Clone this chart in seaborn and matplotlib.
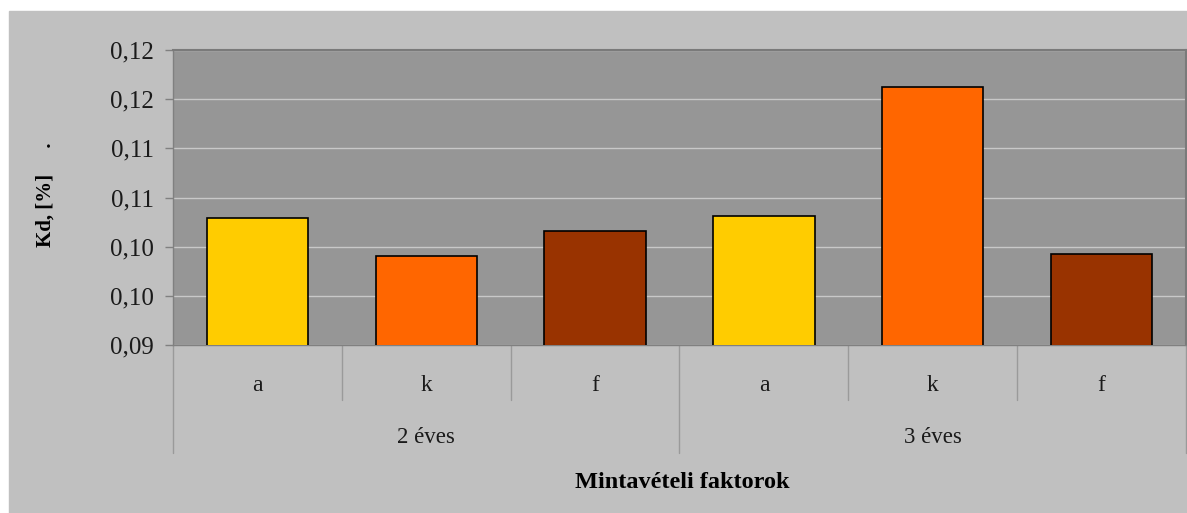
import pandas as pd
import matplotlib.pyplot as plt
import seaborn as sns
from matplotlib.patches import Rectangle

# adatok
evek = ['2 éves', '2 éves', '2 éves', '3 éves', '3 éves', '3 éves']
faktorok = ['a', 'k', 'f', 'a', 'k', 'f']
kd_ertekek = [0.1029, 0.0990, 0.1016, 0.1031, 0.1162, 0.0993]
y_tickek = [0.09, 0.095, 0.10, 0.105, 0.11, 0.115, 0.12]
y_cimkek = ['0,09', '0,10', '0,10', '0,11', '0,11', '0,12', '0,12']
szinek = {'a': '#FFCC00', 'k': '#FF6600', 'f': '#993300'}

df = pd.DataFrame({'ev': evek, 'faktor': faktorok, 'kd': kd_ertekek})
df['kulcs'] = df['ev'] + ' ' + df['faktor']

sns.set_theme(style="white")
plt.rcParams['font.family'] = ['Liberation Serif', 'DejaVu Serif']

fig = plt.figure(figsize=(11.87, 5.13), dpi=100, facecolor='white')
# külső szürke háttér
fig.patches.append(Rectangle((9 / 1187, 0), 1, (513 - 11) / 513,
                             transform=fig.transFigure, color='#c0c0c0', zorder=-10))

ax = fig.add_axes([173 / 1187, 1 - 345 / 513, 1013 / 1187, 295 / 513])
ax.set_facecolor('#969696')

sns.barplot(data=df, x='kulcs', y='kd', hue='faktor', palette=szinek, dodge=False,
            saturation=1, width=0.6, edgecolor='black', linewidth=1.2, legend=False,
            ax=ax, zorder=3)

ax.set_ylim(0.09, 0.12)
ax.set_xlim(-0.5, len(df) - 0.5)
ax.set_yticks(y_tickek)
ax.set_yticklabels(y_cimkek, fontsize=18, color='#1a1a1a')
ax.yaxis.grid(True, color='#c8c8c8', linewidth=1, zorder=0)
ax.set_axisbelow(True)
ax.tick_params(axis='y', direction='out', length=6, width=1, color='#808080', pad=8, left=True)
ax.tick_params(axis='x', bottom=False, labelbottom=False)

for s in ['left', 'bottom']:
    ax.spines[s].set_color('#808080')
    ax.spines[s].set_linewidth(1)
for s in ['top', 'right']:
    ax.spines[s].set_color('#7a7a7a')
    ax.spines[s].set_linewidth(1.5)

tr = ax.get_xaxis_transform()
# kategória elválasztók
for i in range(len(df) + 1):
    hossz = -0.366 if i % 3 == 0 else -0.186
    ax.plot([i - 0.5, i - 0.5], [0, hossz], transform=tr, clip_on=False,
            color='#9a9a9a', linewidth=1)

for i, f in enumerate(faktorok):
    ax.text(i, -0.136, f, transform=tr, ha='center', va='center', fontsize=17, color='#1a1a1a')

for j, ev in enumerate(['2 éves', '3 éves']):
    ax.text(j * 3 + 1, -0.315, ev, transform=tr, ha='center', va='center', fontsize=16.5,
            color='#1a1a1a')

ax.set_xlabel('')
ax.set_ylabel('')
fig.text(682 / 1187, 1 - 482 / 513, 'Mintavételi faktorok', ha='center', va='center',
         fontsize=17.5, fontweight='bold', color='black')
fig.text(46 / 1187, 1 - 195 / 513, 'Kd, [%]     .', ha='center', va='center',
         rotation=90, fontsize=15, fontweight='bold', color='black')

fig.savefig('out.png', dpi=100, facecolor='white')
